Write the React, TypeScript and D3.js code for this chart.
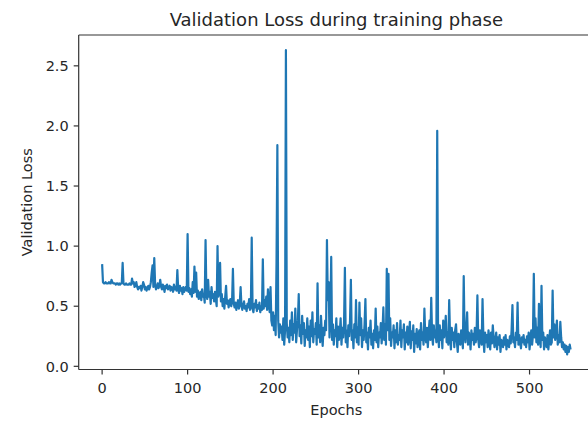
import React from "react";
import * as d3 from "d3";

const title = "Validation Loss during training phase";
const xLabel = "Epochs";
const yLabel = "Validation Loss";
const xTicks = [0, 100, 200, 300, 400, 500];
const yTicks = [0.0, 0.5, 1.0, 1.5, 2.0, 2.5];

// validation loss per epoch (epochs 0..548)
const loss: number[] = [
  0.85, 0.70, 0.69, 0.69, 0.70, 0.69, 0.69, 0.69, 0.70, 0.69,
  0.69, 0.72, 0.70, 0.69, 0.69, 0.69, 0.68, 0.69, 0.69, 0.68,
  0.69, 0.68, 0.69, 0.69, 0.86, 0.69, 0.68, 0.68, 0.69, 0.68,
  0.68, 0.68, 0.69, 0.68, 0.68, 0.73, 0.69, 0.70, 0.66, 0.67,
  0.70, 0.66, 0.64, 0.66, 0.65, 0.67, 0.63, 0.66, 0.70, 0.68,
  0.64, 0.66, 0.63, 0.65, 0.67, 0.64, 0.66, 0.70, 0.78, 0.84,
  0.66, 0.90, 0.68, 0.64, 0.66, 0.69, 0.65, 0.67, 0.72, 0.66,
  0.64, 0.68, 0.66, 0.62, 0.67, 0.65, 0.68, 0.64, 0.66, 0.67,
  0.63, 0.66, 0.65, 0.62, 0.68, 0.64, 0.66, 0.63, 0.80, 0.64,
  0.61, 0.67, 0.63, 0.65, 0.60, 0.66, 0.62, 0.64, 0.66, 0.63,
  1.10, 0.62, 0.65, 0.60, 0.64, 0.58, 0.70, 0.61, 0.83, 0.62,
  0.78, 0.58, 0.63, 0.56, 0.60, 0.62, 0.55, 0.64, 0.58, 0.60,
  0.53, 1.05, 0.60, 0.56, 0.72, 0.58, 0.62, 0.52, 0.66, 0.57,
  0.60, 0.54, 0.62, 0.56, 0.50, 1.00, 0.58, 0.62, 0.86, 0.54,
  0.60, 0.50, 0.56, 0.48, 0.58, 0.67, 0.52, 0.55, 0.49, 0.53,
  0.56, 0.50, 0.54, 0.81, 0.52, 0.49, 0.53, 0.47, 0.51, 0.55,
  0.48, 0.52, 0.66, 0.50, 0.47, 0.51, 0.54, 0.48, 0.50, 0.46,
  0.52, 0.49, 0.56, 0.47, 0.50, 1.07, 0.48, 0.45, 0.52, 0.49,
  0.55, 0.46, 0.51, 0.48, 0.53, 0.45, 0.50, 0.47, 0.89, 0.48,
  0.55, 0.50, 0.58, 0.47, 0.64, 0.52, 0.45, 0.66, 0.38, 0.34,
  0.45, 0.30, 0.42, 0.26, 0.86, 1.84, 0.38, 0.24, 0.35, 0.28,
  0.33, 0.22, 0.40, 0.18, 0.30, 2.63, 0.36, 0.24, 0.32, 0.20,
  0.38, 0.26, 0.45, 0.22, 0.35, 0.28, 0.48, 0.20, 0.31, 0.38,
  0.60, 0.25, 0.34, 0.19, 0.42, 0.27, 0.36, 0.17, 0.30, 0.24,
  0.40, 0.22, 0.33, 0.16, 0.38, 0.25, 0.45, 0.20, 0.31, 0.27,
  0.36, 0.18, 0.69, 0.24, 0.34, 0.20, 0.42, 0.28, 0.17, 0.32,
  0.26, 0.38, 0.30, 1.05, 0.55, 0.70, 0.24, 0.40, 0.91, 0.22,
  0.35, 0.18, 0.30, 0.25, 0.40, 0.16, 0.33, 0.22, 0.28, 0.40,
  0.18, 0.32, 0.24, 0.36, 0.82, 0.20, 0.30, 0.16, 0.34, 0.25,
  0.38, 0.72, 0.22, 0.30, 0.15, 0.35, 0.24, 0.55, 0.20, 0.32,
  0.18, 0.53, 0.26, 0.40, 0.16, 0.30, 0.22, 0.35, 0.56, 0.20,
  0.28, 0.14, 0.32, 0.24, 0.38, 0.18, 0.27, 0.15, 0.30, 0.22,
  0.48, 0.20, 0.33, 0.16, 0.28, 0.24, 0.36, 0.19, 0.30, 0.49,
  0.22, 0.35, 0.18, 0.81, 0.30, 0.77, 0.22, 0.40, 0.17, 0.28,
  0.24, 0.34, 0.15, 0.30, 0.20, 0.36, 0.18, 0.26, 0.22, 0.38,
  0.16, 0.30, 0.24, 0.35, 0.14, 0.28, 0.20, 0.33, 0.18, 0.26,
  0.37, 0.15, 0.29, 0.22, 0.34, 0.12, 0.27, 0.19, 0.31, 0.16,
  0.24, 0.30, 0.14, 0.36, 0.22, 0.28, 0.18, 0.48, 0.25, 0.20,
  0.32, 0.16, 0.28, 0.38, 0.22, 0.57, 0.26, 0.18, 0.34, 0.24,
  0.30, 0.20, 1.96, 0.28, 0.16, 0.34, 0.22, 0.30, 0.15, 0.38,
  0.24, 0.30, 0.42, 0.20, 0.28, 0.18, 0.55, 0.26, 0.14, 0.32,
  0.22, 0.28, 0.16, 0.30, 0.35, 0.20, 0.12, 0.27, 0.22, 0.18,
  0.30, 0.24, 0.15, 0.75, 0.26, 0.20, 0.32, 0.45, 0.18, 0.28,
  0.24, 0.14, 0.30, 0.22, 0.27, 0.18, 0.32, 0.20, 0.26, 0.59,
  0.22, 0.16, 0.30, 0.24, 0.18, 0.56, 0.25, 0.12, 0.28, 0.20,
  0.26, 0.16, 0.30, 0.22, 0.14, 0.28, 0.19, 0.34, 0.24, 0.16,
  0.22, 0.28, 0.14, 0.24, 0.18, 0.26, 0.12, 0.22, 0.20, 0.16,
  0.24, 0.18, 0.26, 0.14, 0.22, 0.20, 0.16, 0.25, 0.19, 0.30,
  0.51, 0.20, 0.24, 0.16, 0.28, 0.22, 0.53, 0.18, 0.26, 0.20,
  0.15, 0.24, 0.20, 0.26, 0.18, 0.22, 0.16, 0.25, 0.20, 0.28,
  0.14, 0.22, 0.30, 0.18, 0.26, 0.77, 0.24, 0.40, 0.20, 0.32,
  0.18, 0.52, 0.24, 0.16, 0.67, 0.22, 0.28, 0.14, 0.24, 0.20,
  0.16, 0.26, 0.14, 0.22, 0.30, 0.18, 0.20, 0.63, 0.24, 0.35,
  0.22, 0.28, 0.38, 0.18, 0.26, 0.20, 0.37, 0.24, 0.16, 0.20,
  0.14, 0.18, 0.12, 0.17, 0.10, 0.16, 0.12, 0.18, 0.14,
];

const W = 588;
const H = 422;
const left = 78.7;
const right = 594;
const top = 35;
const bottom = 369.5;
const font = "'DejaVu Sans', sans-serif";
const textColor = "#262626";

export default function App() {
  const n = loss.length;
  const xMin = 0;
  const xMax = n - 1;
  const xPad = (xMax - xMin) * 0.05;
  const yMin = d3.min(loss) as number;
  const yMax = d3.max(loss) as number;
  const yPad = (yMax - yMin) * 0.05;

  const x = d3.scaleLinear().domain([xMin - xPad, xMax + xPad]).range([left, right]);
  const y = d3.scaleLinear().domain([yMin - yPad, yMax + yPad]).range([bottom, top]);

  const line = d3
    .line<number>()
    .x((_, i) => x(i))
    .y((d) => y(d));

  const tickLen = 5;
  return (
    <svg width={W} height={H} style={{ position: "absolute", left: 0, top: 0, background: "#fff" }}>
      <defs>
        <clipPath id="plot">
          <rect x={left} y={top} width={right - left} height={bottom - top} />
        </clipPath>
      </defs>
      <path d={line(loss) || ""} fill="none" stroke="#1f77b4" strokeWidth={2.2} strokeLinejoin="round" clipPath="url(#plot)" />
      {/* spines */}
      <g stroke="#333" strokeWidth={1.2} fill="none">
        <line x1={left} y1={top} x2={left} y2={bottom} />
        <line x1={left} y1={bottom} x2={right} y2={bottom} />
        <line x1={left} y1={top} x2={right} y2={top} />
        <line x1={right} y1={top} x2={right} y2={bottom} />
      </g>
      {/* x ticks */}
      {xTicks.map((t) => (
        <g key={"x" + t}>
          <line x1={x(t)} x2={x(t)} y1={bottom} y2={bottom + tickLen} stroke="#333" strokeWidth={1.2} />
          <text x={x(t)} y={bottom + tickLen + 18} textAnchor="middle" fontFamily={font} fontSize={14.5} fill={textColor}>
            {String(t)}
          </text>
        </g>
      ))}
      {/* y ticks */}
      {yTicks.map((t) => (
        <g key={"y" + t}>
          <line x1={left - tickLen} x2={left} y1={y(t)} y2={y(t)} stroke="#333" strokeWidth={1.2} />
          <text x={left - tickLen - 5} y={y(t)} dy="0.36em" textAnchor="end" fontFamily={font} fontSize={14.5} fill={textColor}>
            {t.toFixed(1)}
          </text>
        </g>
      ))}
      <text x={(left + right) / 2} y={26} textAnchor="middle" fontFamily={font} fontSize={18} fill={textColor}>
        {title}
      </text>
      <text x={(left + right) / 2} y={415} textAnchor="middle" fontFamily={font} fontSize={14.5} fill={textColor}>
        {xLabel}
      </text>
      <text transform={`translate(32, ${(top + bottom) / 2}) rotate(-90)`} textAnchor="middle" fontFamily={font} fontSize={14.5} fill={textColor}>
        {yLabel}
      </text>
    </svg>
  );
}
